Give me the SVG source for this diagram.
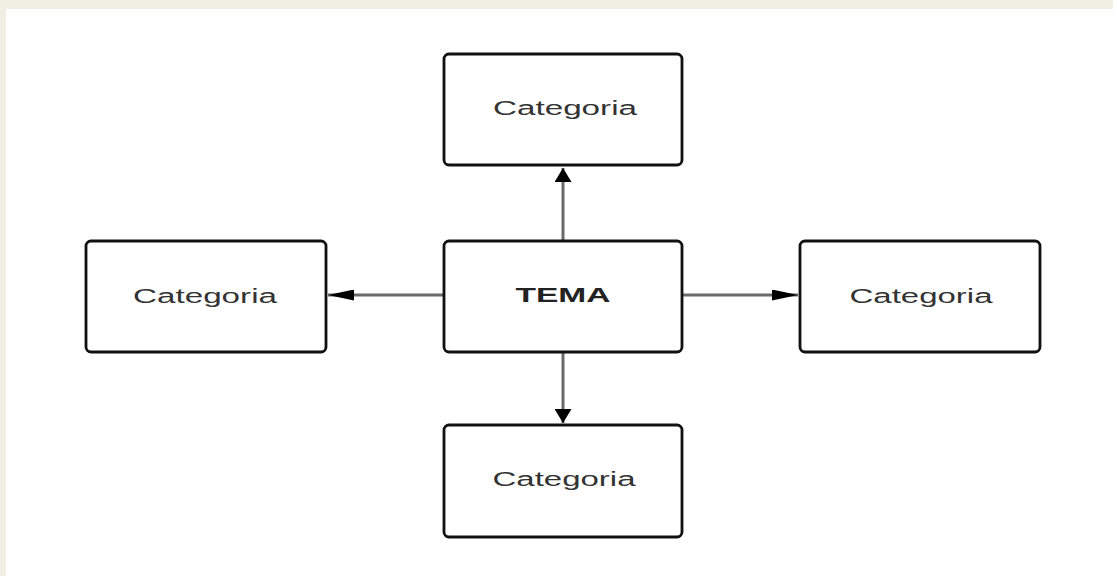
<svg xmlns="http://www.w3.org/2000/svg" width="1113" height="576" viewBox="0 0 1113 576">
  <defs>
    <style>
      .box { fill: #ffffff; stroke: #111111; stroke-width: 2.8; }
      .lbl { font-family: "Liberation Sans", Arial, sans-serif; font-size: 20px; fill: #333333; text-anchor: middle; }
      .bold { font-weight: bold; fill: #222222; }
      .conn { stroke: #6a6a6a; stroke-width: 3; fill: none; }
    </style>
    <marker id="arrH" viewBox="0 0 10 10" refX="10" refY="5" markerUnits="userSpaceOnUse" markerWidth="26" markerHeight="11" orient="auto" preserveAspectRatio="none">
      <path d="M0,0 L10,5 L0,10 Z" fill="#000000"/>
    </marker>
    <marker id="arrV" viewBox="0 0 10 10" refX="10" refY="5" markerUnits="userSpaceOnUse" markerWidth="14" markerHeight="17" orient="auto" preserveAspectRatio="none">
      <path d="M0,0 L10,5 L0,10 Z" fill="#000000"/>
    </marker>
  </defs>
  <rect x="0" y="0" width="1113" height="576" fill="#efefe4"/>
  <rect x="6" y="9" width="1107" height="567" fill="#ffffff"/>

  <g id="connectors">
    <line class="conn" x1="563" y1="241" x2="563" y2="168" marker-end="url(#arrV)"/>
    <line class="conn" x1="444" y1="295" x2="328" y2="295" marker-end="url(#arrH)"/>
    <line class="conn" x1="682" y1="295" x2="798" y2="295" marker-end="url(#arrH)"/>
    <line class="conn" x1="563" y1="352" x2="563" y2="423" marker-end="url(#arrV)"/>
  </g>

  <g id="node-top">
    <rect class="box" x="444" y="54" width="238" height="111" rx="5"/>
    <text class="lbl" x="565" y="115" textLength="144" lengthAdjust="spacingAndGlyphs">Categoria</text>
  </g>
  <g id="node-center">
    <rect class="box" x="444" y="241" width="238" height="111" rx="5"/>
    <text class="lbl bold" x="563" y="302" textLength="95" lengthAdjust="spacingAndGlyphs">TEMA</text>
  </g>
  <g id="node-left">
    <rect class="box" x="86" y="241" width="240" height="111" rx="5"/>
    <text class="lbl" x="205" y="303" textLength="144" lengthAdjust="spacingAndGlyphs">Categoria</text>
  </g>
  <g id="node-right">
    <rect class="box" x="800" y="241" width="240" height="111" rx="5"/>
    <text class="lbl" x="921" y="303" textLength="143" lengthAdjust="spacingAndGlyphs">Categoria</text>
  </g>
  <g id="node-bottom">
    <rect class="box" x="444" y="425" width="238" height="112" rx="5"/>
    <text class="lbl" x="564" y="486" textLength="143" lengthAdjust="spacingAndGlyphs">Categoria</text>
  </g>
</svg>
